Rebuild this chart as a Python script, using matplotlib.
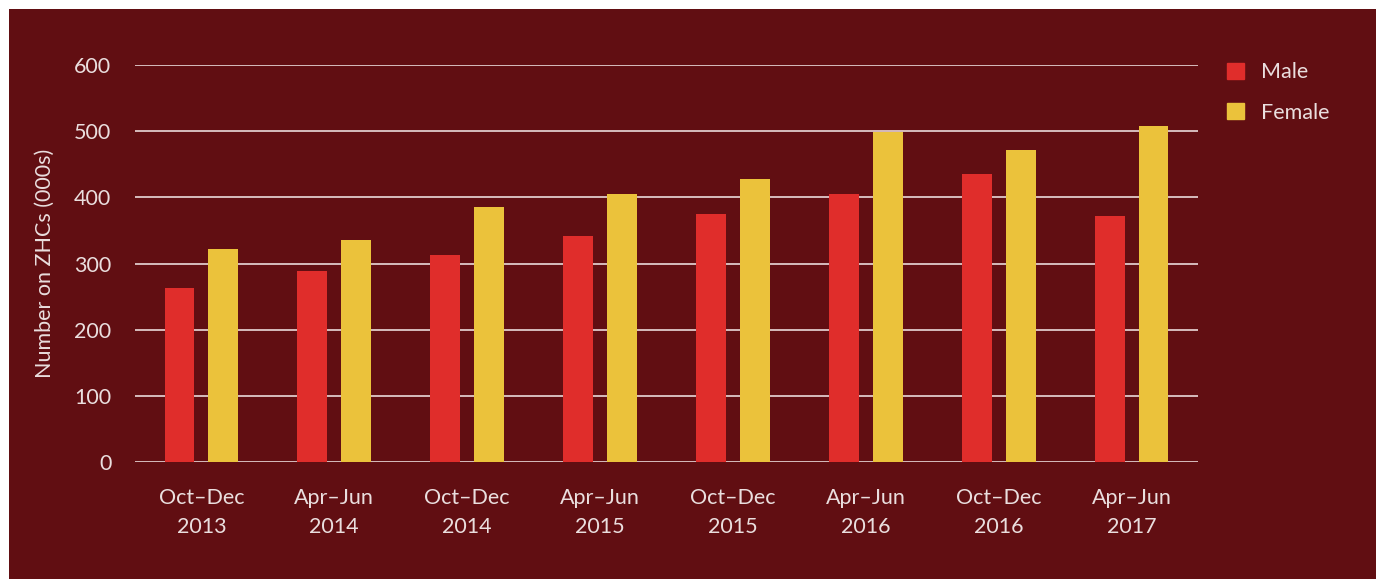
import numpy as np
import matplotlib.pyplot as plt
from matplotlib.patches import Rectangle, Patch

periods = ["Oct\u2013Dec\n2013", "Apr\u2013Jun\n2014", "Oct\u2013Dec\n2014", "Apr\u2013Jun\n2015",
           "Oct\u2013Dec\n2015", "Apr\u2013Jun\n2016", "Oct\u2013Dec\n2016", "Apr\u2013Jun\n2017"]
male = [263, 289, 313, 341, 375, 405, 435, 372]
female = [322, 335, 385, 405, 428, 499, 471, 508]

bg = "#610e12"
txt = "#eadede"
plt.rcParams['font.family'] = ['Lato', 'DejaVu Sans']

fig = plt.figure(figsize=(13.76, 5.79), dpi=100)
fig.patch.set_facecolor("white")
fig.patches.append(Rectangle((9 / 1376, 0), 1, 1 - 9 / 579, transform=fig.transFigure,
                             facecolor=bg, edgecolor="none", zorder=-10))

ax = fig.add_axes([135 / 1376, (579 - 462) / 579, (1198 - 135) / 1376, (462 - 65) / 579])
ax.set_facecolor(bg)

x = np.arange(len(periods))
w = 0.225
ax.bar(x - 0.165, male, w, color="#e02d2b", zorder=3)
ax.bar(x + 0.165, female, w, color="#ebc23b", zorder=3)

ax.set_xlim(-0.5, len(periods) - 0.5)
ax.set_ylim(0, 600)
ax.set_yticks(range(0, 601, 100))
ax.grid(axis="y", color="#eadada", linewidth=1.2, zorder=1)
ax.set_xticks(x)
ax.set_xticklabels(periods, fontsize=15.5, color=txt, linespacing=1.55)
ax.tick_params(axis="both", length=0, labelsize=15.5, colors=txt)
ax.tick_params(axis="x", pad=19)
ax.tick_params(axis="y", pad=17)
for s in ax.spines.values():
    s.set_visible(False)
ax.set_ylabel("Number on ZHCs (000s)", fontsize=15.5, color=txt, labelpad=14)

handles = [Patch(color="#e02d2b", label="Male"), Patch(color="#ebc23b", label="Female")]
leg = fig.legend(handles=handles, loc="upper left", bbox_to_anchor=(1208 / 1376, 1 - 43 / 579),
                 frameon=False, fontsize=15.5, handlelength=0.75, handleheight=0.75,
                 labelspacing=0.95, handletextpad=0.8)
for t in leg.get_texts():
    t.set_color(txt)

fig.savefig("out.png", dpi=100, facecolor=fig.get_facecolor())
